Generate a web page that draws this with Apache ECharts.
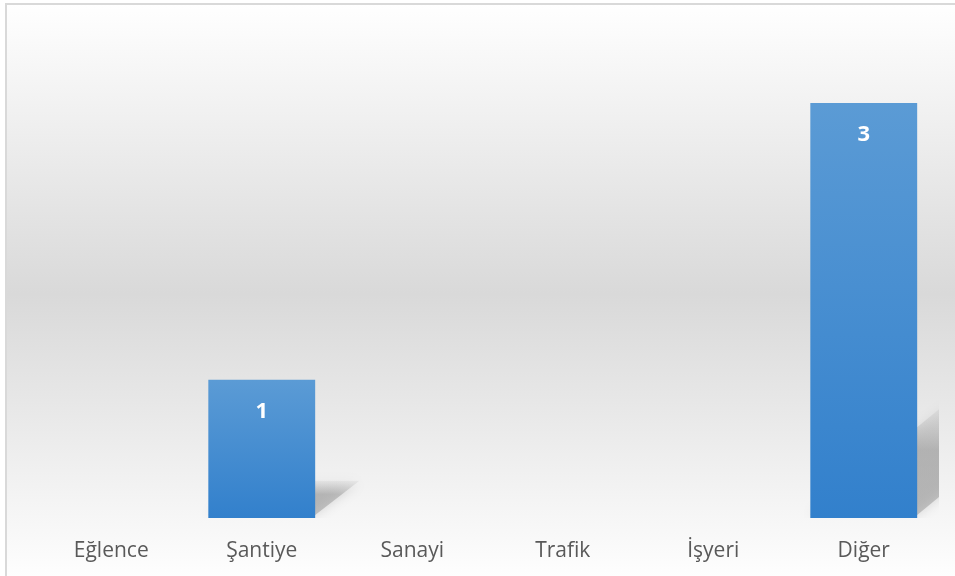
<!DOCTYPE html>
<html>
<head>
<meta charset="utf-8">
<script src="https://cdn.jsdelivr.net/npm/echarts@6/dist/echarts.min.js"></script>
<style>
    html, body { margin: 0; padding: 0; background: #fff; }
    #chart { width: 955px; height: 576px; }
</style>
</head>
<body>
<div id="chart"></div>
<script>
// kategoriler ve değerler
var categories = ['Eğlence', 'Şantiye', 'Sanayi', 'Trafik', 'İşyeri', 'Diğer'];
var values = [0, 1, 0, 0, 0, 3];

var chart = echarts.init(document.getElementById('chart'));

// bar arkasındaki perspektif gölge
function renderShadow(params, api) {
    var v = api.value(1);
    if (!v) return;
    var base = api.coord([api.value(0), 0]);
    var top = api.coord([api.value(0), v]);
    var size = api.size([1, 0]);
    var bw = size[0] * 0.71;
    var h = base[1] - top[1];
    var dy = h * 0.27, dx = h * 0.32;
    var xl = base[0] - bw / 2, xr = base[0] + bw / 2;
    return {
        type: 'polygon',
        shape: {
            points: [[xl, base[1] - 3], [xr, base[1] - 3], [xr + dx, base[1] - dy], [xl + dx, base[1] - dy]]
        },
        style: {
            fill: new echarts.graphic.LinearGradient(0, 1, 0, 0, [
                { offset: 0, color: 'rgba(140,140,140,0.45)' },
                { offset: 0.6, color: 'rgba(150,150,150,0.5)' },
                { offset: 1, color: 'rgba(180,180,180,0.15)' }
            ]),
            shadowBlur: 12,
            shadowColor: 'rgba(150,150,150,0.7)'
        }
    };
}

var option = {
    backgroundColor: '#ffffff',
    animation: false,
    graphic: [
        {
            type: 'rect',
            z: -10,
            shape: { x: 6, y: 4, width: 960, height: 580 },
            style: {
                fill: new echarts.graphic.LinearGradient(0, 0, 0, 1, [
                    { offset: 0, color: '#ffffff' },
                    { offset: 0.5, color: '#d9d9d9' },
                    { offset: 1, color: '#ffffff' }
                ]),
                stroke: '#d9d9d9',
                lineWidth: 2
            }
        }
    ],
    grid: {
        left: 36,
        right: 16,
        top: 103,
        bottom: 58,
        containLabel: false
    },
    xAxis: {
        type: 'category',
        data: categories,
        axisLine: { show: false },
        axisTick: { show: false },
        axisLabel: {
            interval: 0,
            margin: 23,
            color: '#595959',
            fontSize: 21,
            fontFamily: 'Open Sans'
        }
    },
    yAxis: {
        type: 'value',
        min: 0,
        max: 3,
        show: false,
        splitLine: { show: false }
    },
    series: [
        {
            type: 'custom',
            renderItem: renderShadow,
            clip: true,
            z: 1,
            data: values.map(function (v, i) { return [i, v]; })
        },
        {
            type: 'bar',
            data: values,
            barWidth: '71%',
            z: 3,
            itemStyle: {
                color: new echarts.graphic.LinearGradient(0, 0, 0, 1, [
                    { offset: 0, color: '#5b9bd5' },
                    { offset: 1, color: '#3280cc' }
                ])
            },
            label: {
                show: true,
                position: 'insideTop',
                distance: 21,
                color: '#ffffff',
                fontSize: 22,
                fontWeight: 'bold',
                fontFamily: 'Open Sans',
                formatter: function (p) { return p.value ? p.value : ''; }
            }
        }
    ]
};

chart.setOption(option);
</script>
</body>
</html>
